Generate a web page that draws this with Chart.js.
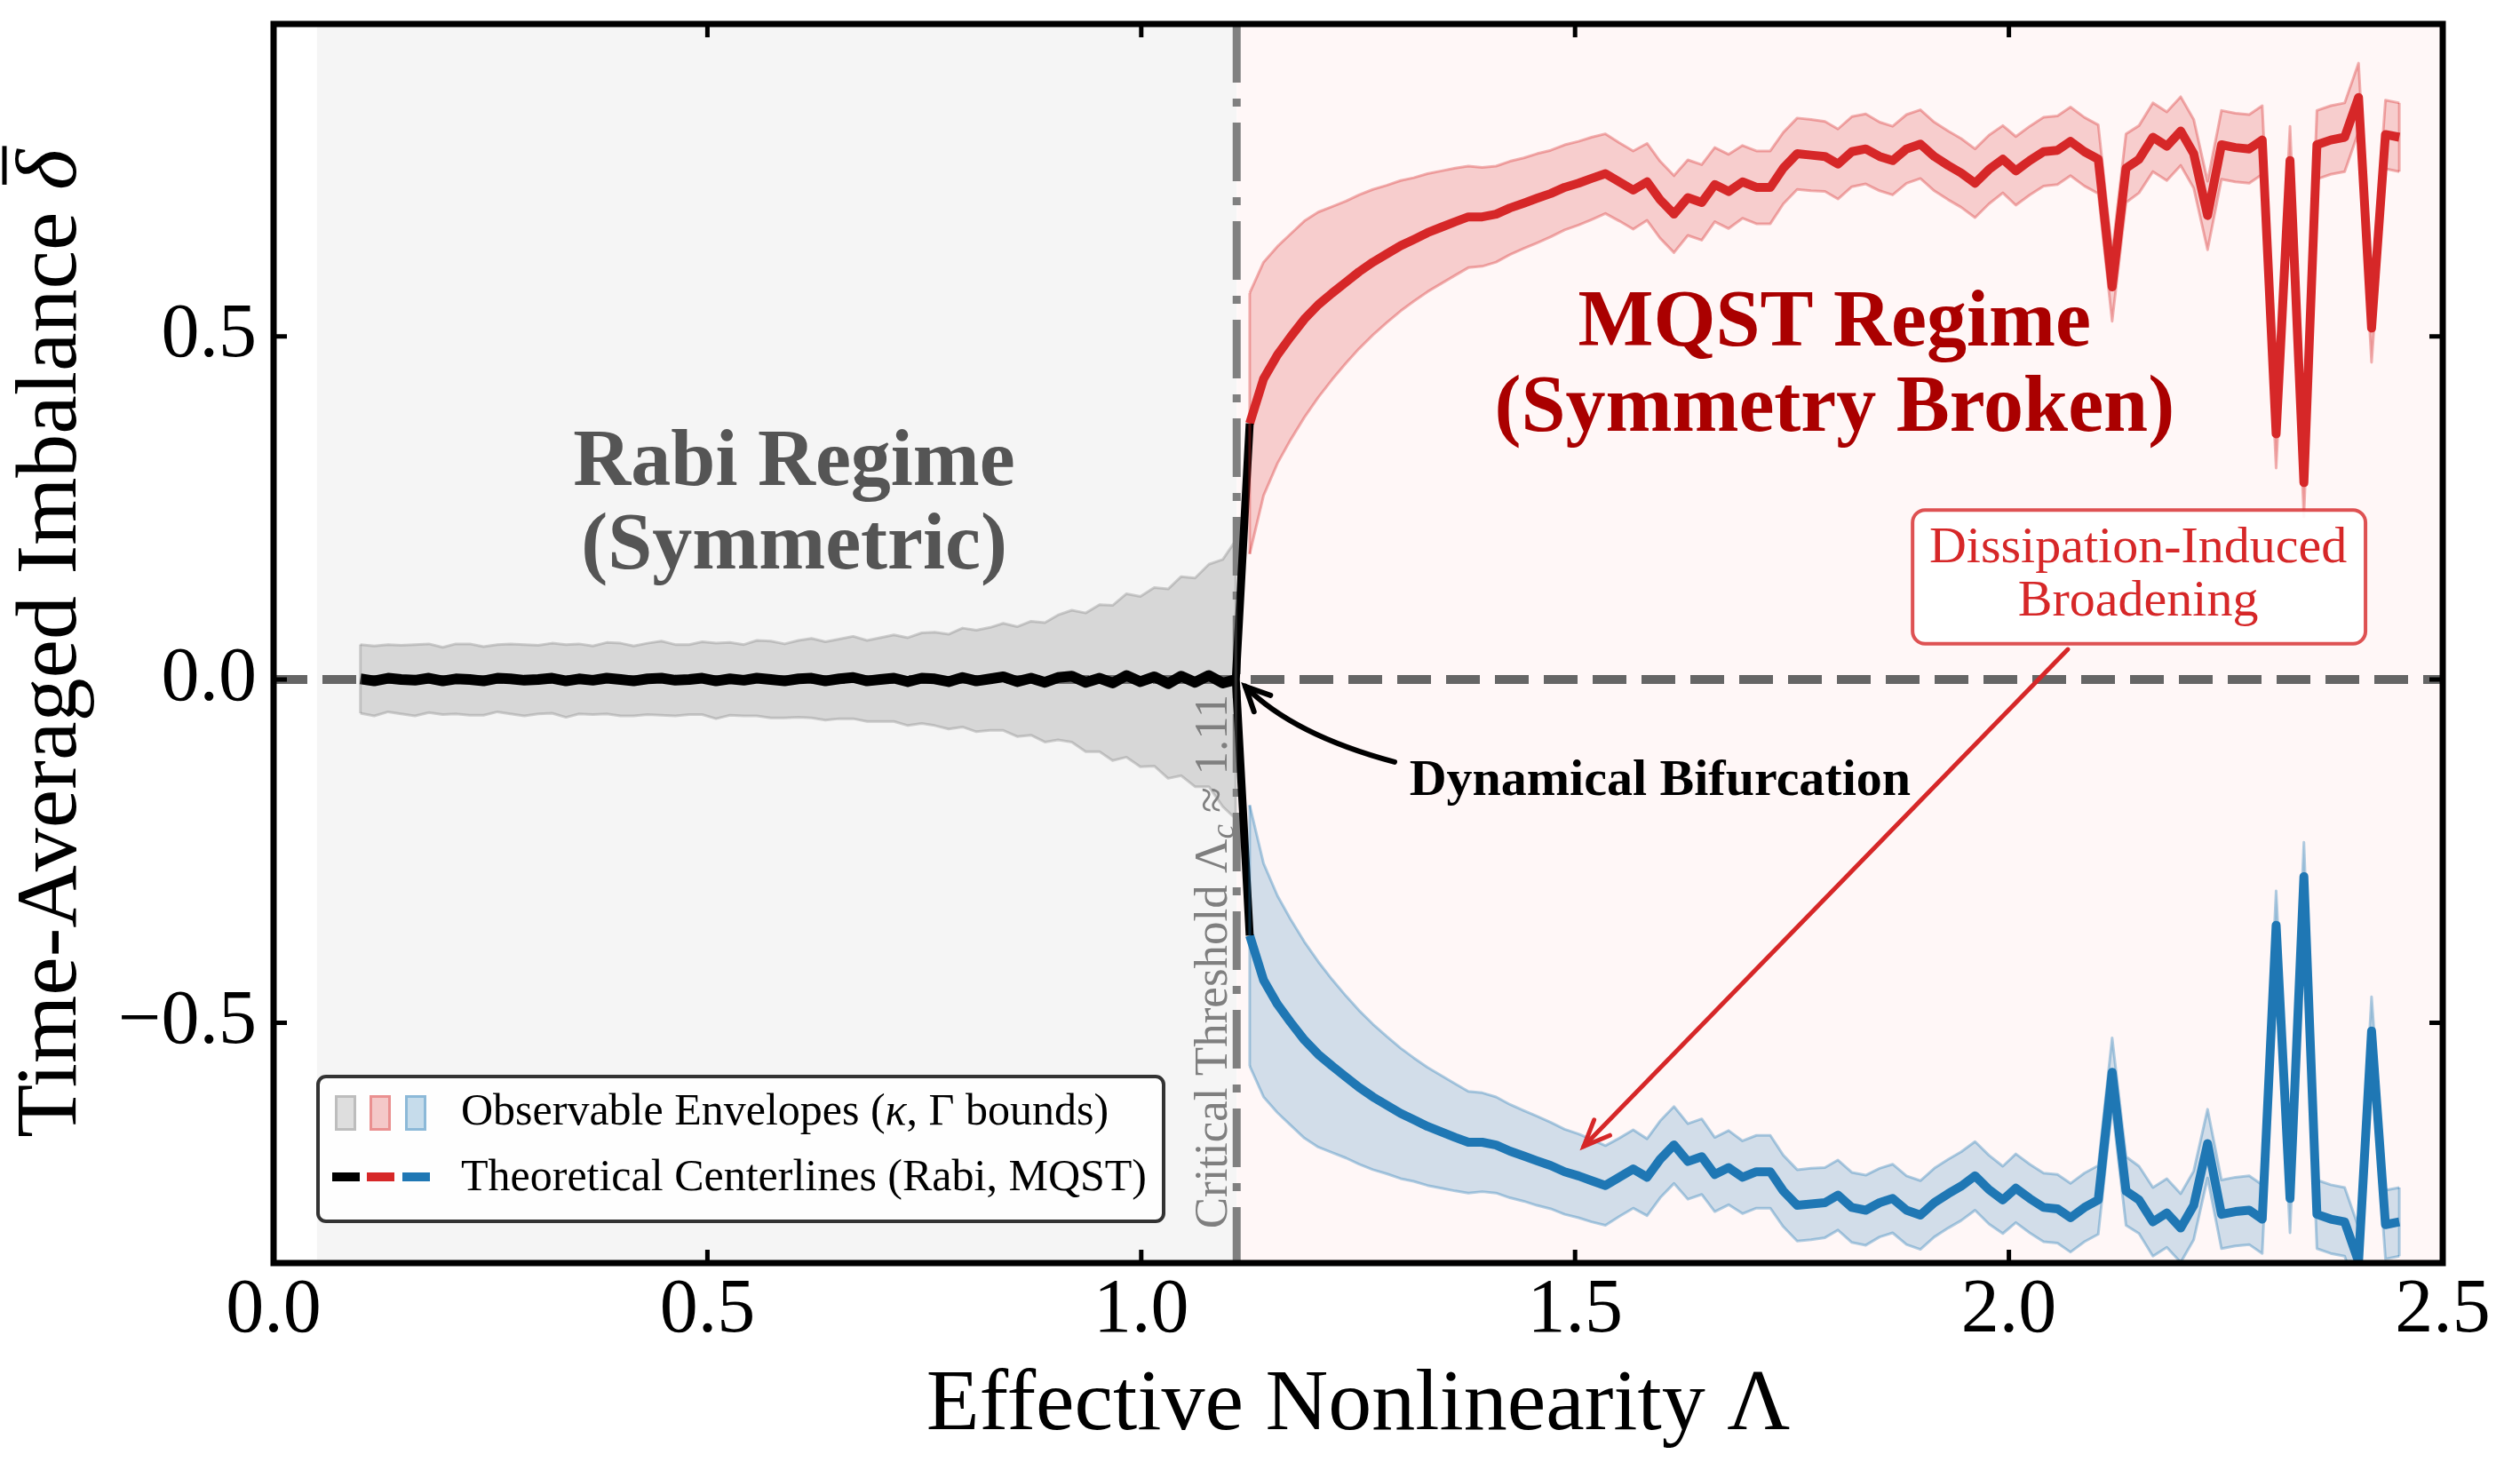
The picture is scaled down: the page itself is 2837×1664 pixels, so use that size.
<!DOCTYPE html>
<html>
<head>
<meta charset="utf-8">
<script src="https://cdn.jsdelivr.net/npm/chart.js@4.4.1/dist/chart.umd.min.js"></script>
<style>
html, body { margin: 0; padding: 0; background: #fff; }
canvas { display: block; }
</style>
</head>
<body>
<canvas id="bifChart" width="2837" height="1664"></canvas>
<script>
const SERIF = '"Liberation Serif", "Times New Roman", serif';

// sampled nonlinearity values (Rabi branch, then MQST branch)
const lambdaRabi = [
  0.100, 0.116, 0.132, 0.147, 0.163, 0.179, 0.195, 0.210, 0.226, 0.242,
  0.258, 0.273, 0.289, 0.305, 0.321, 0.337, 0.352, 0.368, 0.384, 0.400,
  0.415, 0.431, 0.447, 0.463, 0.479, 0.494, 0.510, 0.526, 0.542, 0.557,
  0.573, 0.589, 0.605, 0.620, 0.636, 0.652, 0.668, 0.684, 0.699, 0.715,
  0.731, 0.747, 0.762, 0.778, 0.794, 0.810, 0.826, 0.841, 0.857, 0.873,
  0.889, 0.904, 0.920, 0.936, 0.952, 0.967, 0.983, 0.999, 1.015, 1.031,
  1.046, 1.062, 1.078, 1.094, 1.109
];
const rabiCenter = [
  0.001, -0.002, 0.002, 0.000, -0.001, 0.002, -0.002, 0.001, 0.000, -0.002,
  0.002, 0.001, -0.001, 0.000, 0.002, -0.002, 0.001, -0.001, 0.002, 0.000,
  -0.002, 0.001, 0.002, -0.001, 0.000, 0.002, -0.002, 0.001, -0.001, 0.002,
  0.000, -0.002, 0.001, 0.002, -0.002, 0.001, 0.003, -0.002, 0.000, 0.002,
  -0.003, 0.002, 0.001, -0.003, 0.003, -0.002, 0.001, 0.004, -0.003, 0.002,
  -0.004, 0.003, 0.005, -0.004, 0.002, -0.005, 0.006, -0.003, 0.004, -0.006,
  0.005, -0.004, 0.006, -0.005, 0.000
];
const rabiHalfWidth = [
  0.050, 0.051, 0.049, 0.050, 0.052, 0.050, 0.049, 0.051, 0.052, 0.050,
  0.049, 0.051, 0.052, 0.050, 0.051, 0.053, 0.051, 0.050, 0.052, 0.053,
  0.051, 0.052, 0.054, 0.052, 0.051, 0.053, 0.055, 0.053, 0.052, 0.055,
  0.056, 0.054, 0.056, 0.058, 0.057, 0.058, 0.060, 0.059, 0.061, 0.063,
  0.064, 0.066, 0.068, 0.069, 0.072, 0.074, 0.075, 0.078, 0.080, 0.083,
  0.087, 0.091, 0.096, 0.101, 0.107, 0.113, 0.119, 0.124, 0.130, 0.138,
  0.145, 0.152, 0.162, 0.180, 0.203
];

const lambdaMqst = [
  1.125, 1.141, 1.157, 1.172, 1.188, 1.204, 1.220, 1.236, 1.251, 1.267,
  1.283, 1.299, 1.314, 1.330, 1.346, 1.362, 1.377, 1.393, 1.409, 1.425,
  1.441, 1.456, 1.472, 1.488, 1.504, 1.519, 1.535, 1.551, 1.567, 1.583,
  1.598, 1.614, 1.630, 1.646, 1.661, 1.677, 1.693, 1.709, 1.725, 1.740,
  1.756, 1.772, 1.788, 1.803, 1.819, 1.835, 1.851, 1.866, 1.882, 1.898,
  1.914, 1.930, 1.945, 1.961, 1.977, 1.993, 2.008, 2.024, 2.040, 2.056,
  2.071, 2.087, 2.103, 2.119, 2.135, 2.150, 2.166, 2.182, 2.198, 2.213,
  2.229, 2.245, 2.261, 2.277, 2.292, 2.308, 2.324, 2.340, 2.355, 2.371,
  2.387, 2.403, 2.418, 2.434, 2.450
];
// upper MQST branch; the lower branch is its mirror image
const mqstCenter = [
  0.373, 0.438, 0.473, 0.499, 0.525, 0.546, 0.563, 0.579, 0.594, 0.608,
  0.620, 0.632, 0.641, 0.651, 0.659, 0.667, 0.674, 0.674, 0.678, 0.687,
  0.694, 0.701, 0.708, 0.717, 0.723, 0.730, 0.737, 0.725, 0.713, 0.725,
  0.699, 0.678, 0.702, 0.695, 0.721, 0.711, 0.725, 0.717, 0.717, 0.745,
  0.766, 0.764, 0.762, 0.751, 0.769, 0.773, 0.762, 0.756, 0.773, 0.780,
  0.762, 0.749, 0.738, 0.723, 0.743, 0.758, 0.741, 0.756, 0.769, 0.771,
  0.784, 0.769, 0.758, 0.572, 0.745, 0.758, 0.790, 0.777, 0.799, 0.766,
  0.676, 0.779, 0.775, 0.773, 0.786, 0.358, 0.756, 0.287, 0.779, 0.786,
  0.790, 0.848, 0.512, 0.794, 0.790
];
const mqstHalfWidth = [
  0.190, 0.170, 0.158, 0.150, 0.143, 0.135, 0.126, 0.118, 0.112, 0.106,
  0.100, 0.095, 0.090, 0.086, 0.082, 0.078, 0.074, 0.072, 0.070, 0.068,
  0.066, 0.065, 0.063, 0.062, 0.061, 0.060, 0.058, 0.057, 0.057, 0.056,
  0.056, 0.056, 0.055, 0.055, 0.054, 0.054, 0.053, 0.053, 0.053, 0.052,
  0.052, 0.052, 0.051, 0.051, 0.051, 0.051, 0.050, 0.050, 0.050, 0.050,
  0.050, 0.050, 0.050, 0.050, 0.050, 0.049, 0.050, 0.050, 0.050, 0.050,
  0.050, 0.050, 0.050, 0.050, 0.050, 0.049, 0.050, 0.050, 0.050, 0.050,
  0.050, 0.050, 0.050, 0.050, 0.050, 0.050, 0.050, 0.050, 0.050, 0.050,
  0.050, 0.050, 0.050, 0.050, 0.050
];

const xTicks = [0, 0.5, 1.0, 1.5, 2.0, 2.5];
const yTicks = [-0.5, 0, 0.5];
const lambdaCritical = 1.11;
const rabiShadeStart = 0.05;

const RED = '#d62728', BLUE = '#1f77b4';

function pts(xs, ys) { return xs.map((x, i) => ({ x: x, y: ys[i] })); }
const rabiUpper = rabiCenter.map((c, i) => c + rabiHalfWidth[i]);
const rabiLower = rabiCenter.map((c, i) => c - rabiHalfWidth[i]);
const mqstNeg = mqstCenter.map(v => -v);
const mqstPosUpper = mqstCenter.map((c, i) => c + mqstHalfWidth[i]);
const mqstPosLower = mqstCenter.map((c, i) => c - mqstHalfWidth[i]);
const mqstNegUpper = mqstNeg.map((c, i) => c + mqstHalfWidth[i]);
const mqstNegLower = mqstNeg.map((c, i) => c - mqstHalfWidth[i]);
// black link from the last Rabi point to the first points of both MQST branches
const linkPts = [
  { x: lambdaMqst[0], y: mqstCenter[0] },
  { x: lambdaRabi[lambdaRabi.length - 1], y: rabiCenter[rabiCenter.length - 1] },
  { x: lambdaMqst[0], y: mqstNeg[0] }
];
// closing edges at both ends of each envelope
const bandEnds = [
  { xs: lambdaRabi, hi: rabiUpper, lo: rabiLower, rgb: '128,128,128' },
  { xs: lambdaMqst, hi: mqstPosUpper, lo: mqstPosLower, rgb: '214,39,40' },
  { xs: lambdaMqst, hi: mqstNegUpper, lo: mqstNegLower, rgb: '31,119,180' }
];

function fmt(v) { return (v < 0 ? '\u2212' : '') + Math.abs(v).toFixed(1); }

function band(label, data, rgb, fillTo) {
  return {
    label: label, data: data, order: 10,
    borderColor: 'rgba(' + rgb + ',0.35)', borderWidth: 3,
    backgroundColor: 'rgba(' + rgb + ',' + (rgb === '128,128,128' ? 0.25 : 0.2) + ')',
    fill: fillTo
  };
}

function drawRuns(ctx, runs, x, y) {
  let cx = x;
  runs.forEach(r => {
    ctx.font = r.font;
    ctx.fillText(r.text, cx, y + (r.dy || 0));
    cx += ctx.measureText(r.text).width;
  });
  return cx - x;
}
function runsWidth(ctx, runs) {
  let w = 0;
  runs.forEach(r => { ctx.font = r.font; w += ctx.measureText(r.text).width; });
  return w;
}
function arrowHead(ctx, tx, ty, fx, fy, len, spread) {
  const ang = Math.atan2(ty - fy, tx - fx);
  ctx.beginPath();
  ctx.moveTo(tx - len * Math.cos(ang - spread), ty - len * Math.sin(ang - spread));
  ctx.lineTo(tx, ty);
  ctx.lineTo(tx - len * Math.cos(ang + spread), ty - len * Math.sin(ang + spread));
  ctx.stroke();
}
function rrect(ctx, x, y, w, h, r) {
  ctx.beginPath();
  ctx.moveTo(x + r, y);
  ctx.arcTo(x + w, y, x + w, y + h, r);
  ctx.arcTo(x + w, y + h, x, y + h, r);
  ctx.arcTo(x, y + h, x, y, r);
  ctx.arcTo(x, y, x + w, y, r);
  ctx.closePath();
}

const regimePlugin = {
  id: 'regimes',
  beforeDatasetsDraw(chart) {
    const { ctx, chartArea: a, scales: { x, y } } = chart;
    ctx.save();
    ctx.beginPath();
    ctx.rect(a.left, a.top, a.right - a.left, a.bottom - a.top);
    ctx.clip();
    const xs = x.getPixelForValue(rabiShadeStart), xc = x.getPixelForValue(lambdaCritical);
    ctx.fillStyle = '#f5f5f5';
    ctx.fillRect(xs, a.top, xc - xs, a.bottom - a.top);
    ctx.fillStyle = '#fff7f7';
    ctx.fillRect(xc, a.top, a.right - xc, a.bottom - a.top);

    const y0 = y.getPixelForValue(0);
    ctx.strokeStyle = '#666666';
    ctx.lineWidth = 10;
    ctx.setLineDash([38, 17]);
    ctx.beginPath(); ctx.moveTo(a.left, y0); ctx.lineTo(a.right, y0); ctx.stroke();

    ctx.strokeStyle = '#808080';
    ctx.lineWidth = 9;
    ctx.setLineDash([66, 18, 9, 18]);
    ctx.beginPath(); ctx.moveTo(xc, a.top); ctx.lineTo(xc, a.bottom); ctx.stroke();
    ctx.restore();
  },
  afterDatasetsDraw(chart) {
    const { ctx, chartArea: a, scales: { x, y } } = chart;
    const X = v => x.getPixelForValue(v), Y = v => y.getPixelForValue(v);
    ctx.save();

    ctx.save();
    ctx.beginPath();
    ctx.rect(a.left, a.top, a.right - a.left, a.bottom - a.top);
    ctx.clip();
    ctx.lineWidth = 3;
    bandEnds.forEach(b => {
      ctx.strokeStyle = 'rgba(' + b.rgb + ',0.35)';
      [0, b.xs.length - 1].forEach(i => {
        ctx.beginPath();
        ctx.moveTo(X(b.xs[i]), Y(b.hi[i]));
        ctx.lineTo(X(b.xs[i]), Y(b.lo[i]));
        ctx.stroke();
      });
    });
    ctx.restore();

    ctx.textBaseline = 'alphabetic';

    // critical threshold label, vertical
    ctx.save();
    ctx.translate(X(lambdaCritical) - 11, Y(-0.80));
    ctx.rotate(-Math.PI / 2);
    ctx.fillStyle = '#7f7f7f';
    ctx.textAlign = 'left';
    drawRuns(ctx, [
      { text: 'Critical Threshold ', font: '53px ' + SERIF },
      { text: '\u039b', font: '53px ' + SERIF },
      { text: 'c', font: 'italic 37px ' + SERIF, dy: 8 },
      { text: ' \u2248 1.11', font: '53px ' + SERIF }
    ], 0, 0);
    ctx.restore();

    // regime labels
    ctx.textAlign = 'center';
    ctx.font = 'bold 90px ' + SERIF;
    ctx.fillStyle = '#555555';
    ctx.fillText('Rabi Regime', X(0.600), Y(0.284));
    ctx.fillText('(Symmetric)', X(0.600), Y(0.162));
    ctx.fillStyle = '#aa0000';
    ctx.fillText('MQST Regime', X(1.799), Y(0.486));
    ctx.fillText('(Symmetry Broken)', X(1.799), Y(0.363));

    // bifurcation annotation
    ctx.textAlign = 'left';
    ctx.fillStyle = '#000';
    ctx.font = 'bold 58px ' + SERIF;
    ctx.fillText('Dynamical Bifurcation', X(1.309), Y(-0.168));
    const s0x = X(1.292), s0y = Y(-0.120), t0x = X(1.12), t0y = Y(-0.01);
    const c0x = (s0x + t0x) / 2 - 30, c0y = (s0y + t0y) / 2 + 12;
    ctx.strokeStyle = '#000';
    ctx.lineWidth = 6;
    ctx.lineCap = 'round';
    ctx.beginPath(); ctx.moveTo(s0x, s0y); ctx.quadraticCurveTo(c0x, c0y, t0x, t0y); ctx.stroke();
    arrowHead(ctx, t0x, t0y, c0x, c0y, 30, 0.45);

    // broadening annotation
    const bx0 = X(1.889), bx1 = X(2.411), by0 = Y(0.2468), by1 = Y(0.0521);
    const s1x = X(2.068), s1y = Y(0.044), t1x = X(1.51), t1y = Y(-0.68);
    ctx.strokeStyle = RED;
    ctx.lineWidth = 5;
    ctx.beginPath(); ctx.moveTo(s1x, s1y); ctx.lineTo(t1x, t1y); ctx.stroke();
    arrowHead(ctx, t1x, t1y, s1x, s1y, 32, 0.4);
    rrect(ctx, bx0, by0, bx1 - bx0, by1 - by0, 14);
    ctx.fillStyle = 'rgba(255,255,255,0.92)';
    ctx.fill();
    ctx.strokeStyle = 'rgba(214,39,40,0.8)';
    ctx.lineWidth = 4;
    ctx.stroke();
    ctx.textAlign = 'center';
    ctx.fillStyle = RED;
    ctx.font = '58px ' + SERIF;
    ctx.fillText('Dissipation-Induced', X(2.149), Y(0.171));
    ctx.fillText('Broadening', X(2.149), Y(0.093));
    ctx.restore();
  },
  afterDraw(chart) {
    const { ctx, chartArea: a, scales: { x, y } } = chart;
    ctx.save();
    // frame and inward ticks on all sides
    ctx.strokeStyle = '#000';
    ctx.lineWidth = 5;
    xTicks.forEach(v => {
      const px = x.getPixelForValue(v);
      ctx.beginPath();
      ctx.moveTo(px, a.bottom); ctx.lineTo(px, a.bottom - 15);
      ctx.moveTo(px, a.top); ctx.lineTo(px, a.top + 15);
      ctx.stroke();
    });
    yTicks.forEach(v => {
      const py = y.getPixelForValue(v);
      ctx.beginPath();
      ctx.moveTo(a.left, py); ctx.lineTo(a.left + 15, py);
      ctx.moveTo(a.right, py); ctx.lineTo(a.right - 15, py);
      ctx.stroke();
    });
    ctx.lineWidth = 7;
    ctx.strokeRect(a.left, a.top, a.right - a.left, a.bottom - a.top);

    // axis titles
    ctx.fillStyle = '#000';
    ctx.textAlign = 'center';
    ctx.textBaseline = 'alphabetic';
    ctx.font = '98px ' + SERIF;
    ctx.fillText('Effective Nonlinearity \u039b', (a.left + a.right) / 2, 1609);

    ctx.save();
    ctx.translate(85, (a.top + a.bottom) / 2);
    ctx.rotate(-Math.PI / 2);
    ctx.textAlign = 'left';
    const yRuns = [
      { text: 'Time-Averaged Imbalance ', font: '98px ' + SERIF },
      { text: '\u03b4', font: 'italic 98px ' + SERIF }
    ];
    const total = runsWidth(ctx, yRuns);
    ctx.font = '98px ' + SERIF;
    const w1 = ctx.measureText(yRuns[0].text).width;
    drawRuns(ctx, yRuns, -total / 2, 0);
    ctx.lineWidth = 5;
    ctx.beginPath();
    ctx.moveTo(-total / 2 + w1 + 6, -80);
    ctx.lineTo(-total / 2 + total + 4, -80);
    ctx.stroke();
    ctx.restore();

    // legend
    rrect(ctx, 358, 1212, 952, 163, 9);
    ctx.fillStyle = 'rgba(255,255,255,0.9)';
    ctx.fill();
    ctx.strokeStyle = '#333';
    ctx.lineWidth = 4;
    ctx.stroke();
    [['128,128,128', 377], ['214,39,40', 416], ['31,119,180', 456]].forEach(s => {
      ctx.fillStyle = 'rgba(' + s[0] + ',0.25)';
      ctx.fillRect(s[1], 1233, 24, 40);
      ctx.strokeStyle = 'rgba(' + s[0] + ',0.35)';
      ctx.lineWidth = 3;
      ctx.strokeRect(s[1] + 1.5, 1234.5, 21, 37);
    });
    [['#000', 374], [RED, 413], [BLUE, 453]].forEach(s => {
      ctx.strokeStyle = s[0];
      ctx.lineWidth = 10;
      ctx.lineCap = 'butt';
      ctx.beginPath(); ctx.moveTo(s[1], 1325); ctx.lineTo(s[1] + 31, 1325); ctx.stroke();
    });
    ctx.fillStyle = '#000';
    ctx.textAlign = 'left';
    drawRuns(ctx, [
      { text: 'Observable Envelopes (', font: '50px ' + SERIF },
      { text: '\u03ba', font: 'italic 50px ' + SERIF },
      { text: ', \u0393 bounds)', font: '50px ' + SERIF }
    ], 519, 1266);
    ctx.font = '50px ' + SERIF;
    ctx.fillText('Theoretical Centerlines (Rabi, MQST)', 519, 1340);
    ctx.restore();
  }
};

const tickFont = { family: SERIF, size: 86 };

new Chart(document.getElementById('bifChart'), {
  type: 'line',
  data: {
    datasets: [
      band('Rabi upper', pts(lambdaRabi, rabiUpper), '128,128,128', 1),
      band('Rabi lower', pts(lambdaRabi, rabiLower), '128,128,128', false),
      band('MQST+ upper', pts(lambdaMqst, mqstPosUpper), '214,39,40', 3),
      band('MQST+ lower', pts(lambdaMqst, mqstPosLower), '214,39,40', false),
      band('MQST- upper', pts(lambdaMqst, mqstNegUpper), '31,119,180', 5),
      band('MQST- lower', pts(lambdaMqst, mqstNegLower), '31,119,180', false),
      { label: 'Rabi', data: pts(lambdaRabi, rabiCenter), borderColor: '#000', borderWidth: 12, order: 2, fill: false },
      { label: 'link', data: linkPts, borderColor: '#000', borderWidth: 9, order: 0, fill: false },
      { label: 'MQST+', data: pts(lambdaMqst, mqstCenter), borderColor: RED, borderWidth: 10, order: 1, fill: false },
      { label: 'MQST-', data: pts(lambdaMqst, mqstNeg), borderColor: BLUE, borderWidth: 10, order: 1, fill: false }
    ]
  },
  options: {
    responsive: false,
    animation: false,
    devicePixelRatio: 1,
    layout: { padding: { top: 27, right: 87, bottom: 0, left: 0 } },
    elements: {
      point: { radius: 0 },
      line: { tension: 0, borderJoinStyle: 'round' }
    },
    plugins: { legend: { display: false }, tooltip: { enabled: false } },
    scales: {
      x: {
        type: 'linear', min: 0, max: 2.5,
        afterBuildTicks: s => { s.ticks = xTicks.map(v => ({ value: v })); },
        afterFit: s => { s.height = 242; s.paddingLeft = 0; s.paddingRight = 0; },
        grid: { display: false, drawTicks: false },
        border: { display: false },
        ticks: { font: tickFont, color: '#000', padding: 3, maxRotation: 0, autoSkip: false, callback: v => fmt(v) }
      },
      y: {
        type: 'linear', min: -0.85, max: 0.955,
        afterBuildTicks: s => { s.ticks = yTicks.map(v => ({ value: v })); },
        afterFit: s => { s.width = 308; s.paddingTop = 0; s.paddingBottom = 0; },
        grid: { display: false, drawTicks: false },
        border: { display: false },
        ticks: { font: tickFont, color: '#000', padding: 19, autoSkip: false, callback: v => fmt(v) }
      }
    }
  },
  plugins: [regimePlugin]
});
</script>
</body>
</html>
